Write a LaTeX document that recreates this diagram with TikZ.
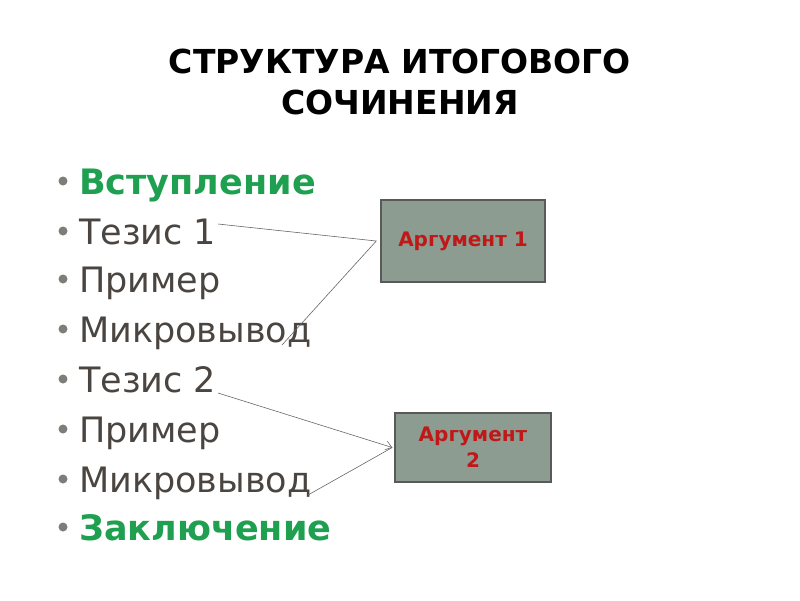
\documentclass[tikz,border=0pt]{standalone}
\usepackage{fontspec}
\setmainfont{DejaVu Sans}
\usetikzlibrary{arrows.meta}
\definecolor{txt}{HTML}{4A4540}
\definecolor{grn}{HTML}{1FA050}
\definecolor{boxc}{HTML}{8C9C90}
\definecolor{red1}{HTML}{C01818}
\begin{document}
\begin{tikzpicture}[x=1pt,y=-1pt,
  item/.style={anchor=base west,font=\fontsize{35}{40}\selectfont,text=txt,inner sep=0},
  bul/.style={circle,fill=txt,inner sep=0,minimum size=9pt},
  argbox/.style={draw=gray!70!black,line width=1.5pt,fill=boxc,text=red1,font=\bfseries\fontsize{20}{26}\selectfont,align=center},
  con/.style={draw=gray!80!black,line width=0.6pt}]
\useasboundingbox (0,0) rectangle (800,600);
\node[font=\bfseries\fontsize{33}{41}\selectfont,align=center,text=black] (title) at (400,82) {СТРУКТУРА ИТОГОВОГО\\СОЧИНЕНИЯ};
\foreach \y/\t/\c [count=\i] in {182/Вступление/grn,232/Тезис 1/txt,280/Пример/txt,330/Микровывод/txt,380/Тезис 2/txt,430/Пример/txt,480/Микровывод/txt,528/Заключение/grn}{
  \node[bul,fill=txt!70] (b\i) at (63,\y-1) {};
  \node[item,text=\c] (t\i) at (79,\y+12) {\ifnum\i=1 \bfseries\fi\ifnum\i=8 \bfseries\fi\t};
}
\node[argbox,minimum width=164pt,minimum height=82pt] (a1) at (463,241) {Аргумент 1};
\node[argbox,minimum width=156pt,minimum height=69pt] (a2) at (473,447.5) {Аргумент\\2};
\coordinate (p1) at (218,224);
\coordinate (p2) at (282,345);
\coordinate (p3) at (218,393);
\coordinate (p4) at (308,495);
\coordinate (q1) at ([xshift=-4pt]a1.west);
\coordinate (q2) at ([xshift=-2pt]a2.west);
\draw[con] (p1) -- (q1) -- (p2);
\draw[con,-{Straight Barb[length=6pt,width=9pt]}] (p3) -- (q2);
\draw[con] (p4) -- (q2);
\end{tikzpicture}
\end{document}
